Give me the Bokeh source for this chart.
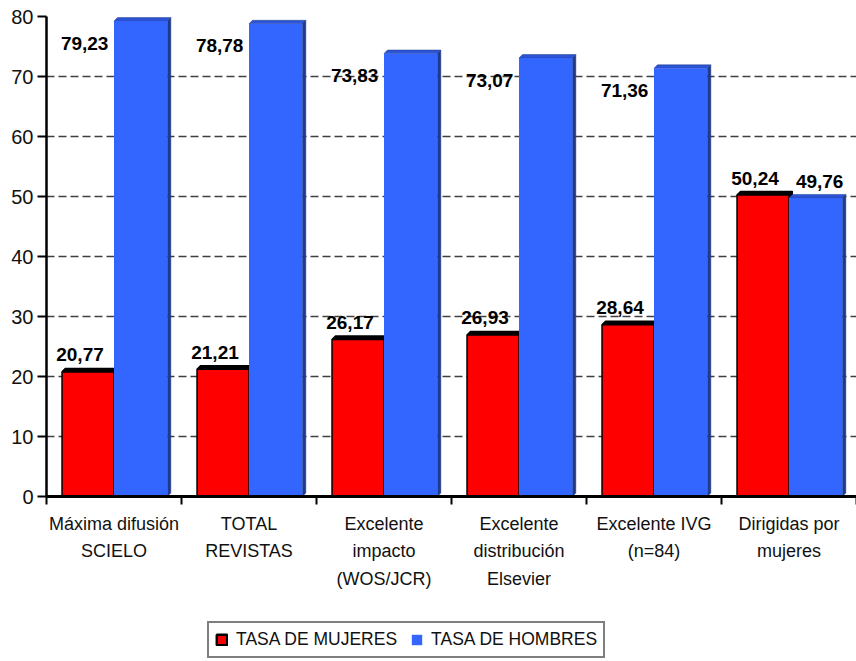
import numpy as np
from bokeh.plotting import figure
from bokeh.layouts import column
from bokeh.models import Range1d, FixedTicker, Legend, LegendItem, ColumnDataSource
from bokeh.core.properties import value
from bokeh.embed import file_html
from bokeh.resources import INLINE

# ---- data -------------------------------------------------------------
categories = [
    "Máxima difusión\nSCIELO",
    "TOTAL\nREVISTAS",
    "Excelente\nimpacto\n(WOS/JCR)",
    "Excelente\ndistribución\nElsevier",
    "Excelente IVG\n(n=84)",
    "Dirigidas por\nmujeres",
]
mujeres = [20.77, 21.21, 26.17, 26.93, 28.64, 50.24]
hombres = [79.23, 78.78, 73.83, 73.07, 71.36, 49.76]
series_names = ["TASA DE MUJERES", "TASA DE HOMBRES"]
y_ticks = [0, 10, 20, 30, 40, 50, 60, 70, 80]

# ---- style ------------------------------------------------------------
FONT = "Liberation Sans"
RED = "#ff0000"
BLUE = "#3366ff"
BLUE_TOP = "#2d54d6"
BLUE_SIDE = "#1f3a8a"

W = 856
CHART_H, LEGEND_H = 600, 61
LEFT, TOP, BOTTOM = 46, 16, 104
Y_MAX = 80
N = len(categories)
px_y = (CHART_H - TOP - BOTTOM) / Y_MAX    # pixels per y unit
px_x = (W - LEFT) / N                      # pixels per category

p = figure(width=W, height=CHART_H, output_backend="svg", toolbar_location=None,
           x_range=Range1d(0, N), y_range=Range1d(0, Y_MAX),
           min_border_left=LEFT, min_border_right=0,
           min_border_top=TOP, min_border_bottom=BOTTOM)
p.outline_line_color = None
p.background_fill_color = "white"
p.border_fill_color = "white"

# value axis
p.yaxis.ticker = FixedTicker(ticks=y_ticks)
p.yaxis.axis_line_color = "black"
p.yaxis.axis_line_width = 2.5
p.yaxis.major_tick_out = 9
p.yaxis.major_tick_in = 0
p.yaxis.major_tick_line_width = 2
p.yaxis.minor_tick_line_color = None
p.yaxis.major_label_text_font = FONT
p.yaxis.major_label_text_font_size = "20px"
p.yaxis.major_label_text_color = "#111111"
p.yaxis.major_label_standoff = 4

# category axis: labels at group centres, short ticks at group boundaries
centres = [i + 0.5 for i in range(N)]
p.xaxis.ticker = FixedTicker(ticks=centres, minor_ticks=list(range(N + 1)))
p.xaxis.major_label_overrides = {c: cat for c, cat in zip(centres, categories)}
p.xaxis.axis_line_color = "black"
p.xaxis.axis_line_width = 3
p.xaxis.major_tick_out = 0
p.xaxis.major_tick_in = 0
p.xaxis.minor_tick_out = 8
p.xaxis.minor_tick_in = 0
p.xaxis.minor_tick_line_width = 2
p.xaxis.minor_tick_line_color = "black"
p.xaxis.major_label_text_font = FONT
p.xaxis.major_label_text_font_size = "18px"
p.xaxis.major_label_text_line_height = 1.38
p.xaxis.major_label_text_color = "#111111"
p.xaxis.major_label_standoff = 9

p.xgrid.visible = False
p.ygrid.ticker = FixedTicker(ticks=y_ticks[1:])
p.ygrid.grid_line_color = "#404040"
p.ygrid.grid_line_dash = "8 4"
p.ygrid.grid_line_width = 1.5

# ---- bars with a shallow 3D face ---------------------------------------
xs = np.arange(N)
DX = 3.5 / px_x
DY = 3.5 / px_y
red_l, red_r = xs + 0.115, xs + 0.5
blue_l, blue_r = xs + 0.5, xs + 0.895


def faces(left, right, vals):
    tops_x, tops_y, side_x, side_y = [], [], [], []
    for l, r, v in zip(left, right, vals):
        tops_x.append([l, l + DX, r + DX, r])
        tops_y.append([v, v + DY, v + DY, v])
        side_x.append([r, r + DX, r + DX, r])
        side_y.append([0, DY, v + DY, v])
    return tops_x, tops_y, side_x, side_y


rtx, rty, rsx, rsy = faces(red_l, red_r, mujeres)
p.patches(rsx, rsy, fill_color="black", line_color="black", line_width=1)
p.patches(rtx, rty, fill_color="black", line_color="black", line_width=1.5)
p.quad(left=red_l, right=red_r, bottom=0, top=mujeres,
       fill_color=RED, line_color="black", line_width=1.5)

btx, bty, bsx, bsy = faces(blue_l, blue_r, hombres)
p.patches(bsx, bsy, fill_color=BLUE_SIDE, line_color=BLUE_SIDE, line_width=0.5)
p.patches(btx, bty, fill_color=BLUE_TOP, line_color=BLUE_SIDE, line_width=0.5)
p.quad(left=blue_l, right=blue_r, bottom=0, top=hombres,
       fill_color=BLUE, line_color=None)

# ---- value labels -------------------------------------------------------
def fmt(v):
    return f"{v:.2f}".replace(".", ",")


label_style = dict(text_font=value(FONT), text_font_style="bold",
                   text_font_size="19px", text_color="black",
                   text_align="center", text_baseline="alphabetic")

red_src = ColumnDataSource(dict(
    x=(red_l + red_r) / 2,
    y=[v + 17 / px_y for v in mujeres],
    t=[fmt(v) for v in mujeres]))
p.text(x="x", y="y", text="t", source=red_src, x_offset=-8, **label_style)

inside = [h - m > 10 for h, m in zip(hombres, mujeres)]
blue_c = (blue_l + blue_r) / 2
in_src = ColumnDataSource(dict(
    x=[c for c, f in zip(blue_c, inside) if f],
    y=[h - 22 / px_y for h, f in zip(hombres, inside) if f],
    t=[fmt(h) for h, f in zip(hombres, inside) if f]))
p.text(x="x", y="y", text="t", source=in_src, x_offset=-56, **label_style)

out_src = ColumnDataSource(dict(
    x=[c for c, f in zip(blue_c, inside) if not f],
    y=[h + 16 / px_y for h, f in zip(hombres, inside) if not f],
    t=[fmt(h) for h, f in zip(hombres, inside) if not f]))
p.text(x="x", y="y", text="t", source=out_src, x_offset=4, **label_style)

# ---- legend strip under the chart -------------------------------------
lg = figure(width=W, height=LEGEND_H, output_backend="svg", toolbar_location=None,
            x_range=Range1d(0, 1), y_range=Range1d(0, 1),
            min_border=0, x_axis_location=None, y_axis_location=None)
lg.outline_line_color = None
lg.grid.visible = False
lg.background_fill_color = "white"
lg.border_fill_color = "white"
# key swatches: styled renderers kept outside the visible range of this strip
key_red = lg.quad(left=[2], right=[3], bottom=[2], top=[3],
                  fill_color=RED, line_color="black", line_width=2.5)
key_blue = lg.quad(left=[2], right=[3], bottom=[2], top=[3],
                   fill_color=BLUE, line_color=None)
legend = Legend(items=[LegendItem(label=series_names[0], renderers=[key_red]),
                       LegendItem(label=series_names[1], renderers=[key_blue])],
                location=(161, 3), orientation="horizontal",
                glyph_width=13, glyph_height=13, label_standoff=8, spacing=13,
                padding=6, margin=0, border_line_color="black",
                border_line_width=2, background_fill_color="white",
                background_fill_alpha=1, label_text_font=FONT,
                label_text_font_size="17.5px", label_text_color="#111111")
lg.add_layout(legend)

layout = column(p, lg, spacing=0)
open("out.html", "w").write(file_html(layout, INLINE))
